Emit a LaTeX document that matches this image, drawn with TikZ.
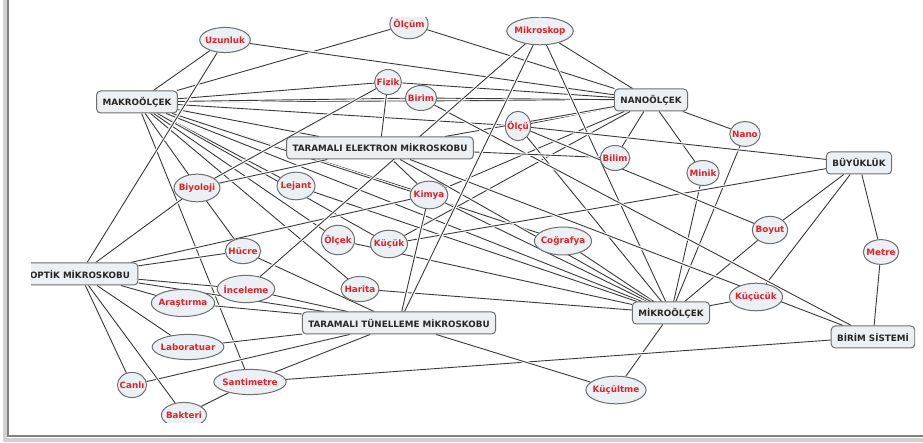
\documentclass[tikz,border=0pt]{standalone}
\usepackage{fontspec}
\setmainfont{DejaVu Sans}
\usetikzlibrary{shapes.geometric, backgrounds}
\definecolor{boxfill}{HTML}{EAF0F3}
\definecolor{boxline}{HTML}{6E6E6E}
\definecolor{wordred}{HTML}{E2232A}
\definecolor{linkgray}{HTML}{3A3A3A}
\tikzset{
	concept/.style={rectangle, rounded corners=4bp, draw=boxline, fill=boxfill, line width=1bp,
		inner xsep=6bp, minimum height=22bp, text=black!85, font=\bfseries\fontsize{8.8}{10}\selectfont},
	word/.style={ellipse, draw=boxline, fill=boxfill, line width=1bp,
		inner xsep=-2bp, inner ysep=5.5bp, text=wordred, font=\bfseries\fontsize{8.8}{10}\selectfont},
	link/.style={draw=linkgray, line width=0.9bp, preaction={draw=white, line width=3bp}},
}

\begin{document}
\begin{tikzpicture}[x=1bp, y=-1bp]
	\useasboundingbox (0,0) rectangle (923,443);
	% frame
	\draw[black!18, line width=4bp] (5,0) -- (5,440) -- (923,440);
	\draw[black!50, line width=1.6bp] (8,0) -- (8,436) -- (923,436);
	\begin{scope}
		\clip (31,18) rectangle (915,422);
		% concepts
		\node[concept, inner xsep=8bp] (optik) at (80,274) {OPTİK MİKROSKOBU};
		\node[concept] (makro) at (137,102) {MAKROÖLÇEK};
		\node[concept] (nano) at (651,100) {NANOÖLÇEK};
		\node[concept] (tem) at (380,148) {TARAMALI ELEKTRON MİKROSKOBU};
		\node[concept] (buyukluk) at (859,163) {BÜYÜKLÜK};
		\node[concept] (mikro) at (671,313) {MİKROÖLÇEK};
		\node[concept] (ttm) at (399,323) {TARAMALI TÜNELLEME MİKROSKOBU};
		\node[concept] (birimsis) at (873,337) {BİRİM SİSTEMİ};
		% words
		\node[word] (olcum) at (409,24) {Ölçüm};
		\node[word] (mikroskop) at (540,31) {Mikroskop};
		\node[word] (uzunluk) at (225,40) {Uzunluk};
		\node[word] (fizik) at (388,82) {Fizik};
		\node[word] (birim) at (421,98) {Birim};
		\node[word] (olcu) at (518,126) {Ölçü};
		\node[word] (nanow) at (745,134) {Nano};
		\node[word] (bilim) at (615,158) {Bilim};
		\node[word] (minik) at (703,173) {Minik};
		\node[word] (biyoloji) at (197,188) {Biyoloji};
		\node[word] (lejant) at (296,186) {Lejant};
		\node[word] (kimya) at (429,195) {Kimya};
		\node[word] (boyut) at (770,230) {Boyut};
		\node[word] (hucre) at (243,251) {Hücre};
		\node[word] (olcek) at (338,240) {Ölçek};
		\node[word] (kucuk) at (389,244) {Küçük};
		\node[word] (cografya) at (563,241) {Coğrafya};
		\node[word] (metre) at (881,252) {Metre};
		\node[word] (inceleme) at (246,289) {İnceleme};
		\node[word] (arastirma) at (183,303) {Araştırma};
		\node[word] (harita) at (360,289) {Harita};
		\node[word] (kucucuk) at (756,297) {Küçücük};
		\node[word] (laboratuar) at (188,347) {Laboratuar};
		\node[word] (canli) at (132,385) {Canlı};
		\node[word] (santimetre) at (250,382) {Santimetre};
		\node[word] (kucultme) at (616,390) {Küçültme};
		\node[word] (bakteri) at (184,415) {Bakteri};
		% links
		\begin{scope}[on background layer]
			\clip (31,18) rectangle (915,422);
			\foreach \a/\b in {makro/uzunluk, makro/olcum, makro/fizik, makro/nano, makro/birim,
				makro/olcu, makro/tem, makro/lejant, makro/kimya, makro/kucuk, makro/cografya,
				makro/mikro, makro/biyoloji, makro/hucre, makro/harita, makro/santimetre, makro/olcek,
				nano/olcum, nano/uzunluk, nano/fizik, nano/birim, nano/mikroskop, nano/olcu, nano/tem,
				nano/kimya, nano/kucuk, nano/bilim, nano/minik, nano/nanow,
				mikro/lejant, mikro/kimya, mikro/olcek, mikro/harita, mikro/cografya, mikro/mikroskop,
				mikro/olcu, mikro/minik, mikro/nanow, mikro/boyut, mikro/kucucuk, mikro/kucultme, mikro/tem,
				buyukluk/olcu, buyukluk/kucuk, buyukluk/boyut, buyukluk/kucucuk, buyukluk/metre,
				birimsis/metre, birimsis/santimetre, birimsis/tem, birimsis/birim,
				tem/fizik, tem/kimya, tem/bilim, tem/biyoloji,
				ttm/mikroskop, ttm/kimya, ttm/hucre, ttm/inceleme, ttm/arastirma, ttm/laboratuar,
				ttm/canli, ttm/santimetre, ttm/kucultme,
				optik/uzunluk, optik/biyoloji, optik/kimya, optik/hucre, optik/inceleme, optik/arastirma,
				optik/laboratuar, optik/canli, optik/bakteri, optik/ttm,
				biyoloji/hucre, santimetre/bakteri, olcu/boyut, inceleme/mikroskop, biyoloji/fizik}
				\draw[link] (\a) -- (\b);
		\end{scope}
	\end{scope}
\end{tikzpicture}
\end{document}
